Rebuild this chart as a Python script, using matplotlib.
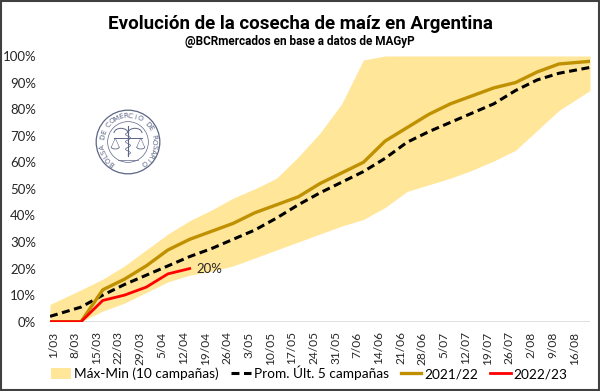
import numpy as np
import pandas as pd
import matplotlib
matplotlib.use('Agg')
import matplotlib.pyplot as plt
from matplotlib.patches import Circle, Rectangle, Arc

# data
dates = ['2023-02-28', '2023-03-10', '2023-03-17', '2023-03-24', '2023-03-31',
         '2023-04-07', '2023-04-14', '2023-04-21', '2023-04-28', '2023-05-05',
         '2023-05-12', '2023-05-19', '2023-05-26', '2023-06-02', '2023-06-09',
         '2023-06-16', '2023-06-23', '2023-06-30', '2023-07-07', '2023-07-14',
         '2023-07-21', '2023-07-28', '2023-08-04', '2023-08-11', '2023-08-21']
band_max = [6.5, 12, 16, 21, 27, 33, 38, 42, 46.5, 50, 54, 62, 71, 82, 98.5,
            100, 100, 100, 100, 100, 100, 100, 100, 100, 100]
band_min = [0, 0, 4, 7, 11, 15, 17.5, 19, 21, 24, 27, 30, 33, 36, 38.5,
            43, 49, 51.5, 54, 57, 60.5, 64.5, 72, 79.5, 87]
prom_5 = [2, 5.5, 10, 14, 17.5, 21, 24.5, 27.5, 31, 34.5, 39, 44, 48.5, 52.5, 56.5,
          61.5, 67.5, 71.5, 75, 78.5, 82, 87, 91, 93.5, 95.7]
camp_2122 = [0, 0, 12, 16, 21, 27, 31, 34, 37, 41, 44, 47, 52, 56, 60,
             68, 73, 78, 82, 85, 88, 90, 94, 97, 98]
camp_2223 = [0, 0, 8, 10, 13, 18, 20]

tick_labels = ['1/03', '8/03', '15/03', '22/03', '29/03', '5/04', '12/04', '19/04',
               '26/04', '3/05', '10/05', '17/05', '24/05', '31/05', '7/06', '14/06',
               '21/06', '28/06', '5/07', '12/07', '19/07', '26/07', '2/08', '9/08', '16/08']

x = pd.to_datetime(dates)
tick_pos = pd.to_datetime([lab + '/2023' for lab in tick_labels], format='%d/%m/%Y')

FONT = ['Lato', 'DejaVu Sans']
NARROW = ['Roboto', 'Liberation Sans', 'DejaVu Sans']
TXT = '#262626'

fig = plt.figure(figsize=(6, 3.91), dpi=100)
ax = fig.add_axes([50 / 600, 1 - 321.7 / 391, 540 / 600, (321.7 - 56) / 391])

ax.fill_between(x, np.array(band_min) / 100, np.array(band_max) / 100,
                color='#FFE699', lw=0, label='Máx-Min (10 campañas)')
ax.plot(x, np.array(prom_5) / 100, color='black', lw=2.2,
        linestyle=(0, (2.6, 1.5)), label='Prom. Últ. 5 campañas')
ax.plot(x, np.array(camp_2122) / 100, color='#BF9000', lw=2.4, label='2021/22')
ax.plot(x[:len(camp_2223)], np.array(camp_2223) / 100, color='#FF0000', lw=2.0,
        label='2022/23')
ax.annotate(f'{camp_2223[-1]}%', (x[len(camp_2223) - 1], camp_2223[-1] / 100),
            xytext=(5, 0), textcoords='offset points', ha='left', va='center',
            fontsize=9.5, color=TXT, family=FONT)

ax.axhline(0, color='#D9D9D9', lw=1.2, zorder=0)
ax.set_xlim(x[0], x[-1])
ax.set_ylim(0, 1)
ax.set_yticks(np.arange(0, 1.01, 0.1))
ax.set_yticklabels([f'{v}%' for v in range(0, 101, 10)], family=FONT, fontsize=9.5, color=TXT)
ax.set_xticks(tick_pos)
ax.set_xticklabels(tick_labels, rotation=90, family=FONT, fontsize=8.6, color=TXT)
ax.tick_params(axis='both', length=0)
ax.tick_params(axis='y', pad=10)
ax.tick_params(axis='x', pad=7)
for s in ax.spines.values():
    s.set_visible(False)

fig.text(0.5, 1 - 24 / 391, 'Evolución de la cosecha de maíz en Argentina',
         ha='center', va='center', fontsize=13.5, fontweight='bold', family=NARROW, color='black')
fig.text(0.5, 1 - 41 / 391, '@BCRmercados en base a datos de MAGyP',
         ha='center', va='center', fontsize=8.5, fontweight='bold', family=NARROW, color='black')

fig.legend(loc='center', bbox_to_anchor=(0.515, 1 - 373 / 391), ncol=4, frameon=False,
           prop={'family': FONT, 'size': 9.8}, handlelength=1.5, handletextpad=0.2,
           columnspacing=0.9, handleheight=0.9)

# seal of the Bolsa de Comercio de Rosario
sc = '#5b6585'
lx = fig.add_axes([93 / 600, 1 - 177 / 391, 70 / 600, 70 / 391])
lx.set_xlim(-1.1, 1.1)
lx.set_ylim(-1.1, 1.1)
lx.set_aspect('equal')
lx.axis('off')
lx.add_patch(Circle((0, 0), 1.0, fill=False, ec=sc, lw=0.9))
lx.add_patch(Circle((0, 0), 0.64, fill=False, ec=sc, lw=0.5))
seal_text = 'BOLSA DE COMERCIO DE ROSARIO'
angles = np.linspace(232, -52, len(seal_text))
for ch, a in zip(seal_text, angles):
    t = np.deg2rad(a)
    lx.text(0.82 * np.cos(t), 0.82 * np.sin(t), ch, rotation=a - 90, ha='center', va='center',
            fontsize=5.2, color=sc, family=['DejaVu Sans'], rotation_mode='anchor')
# emblem: staff, wings, scales
lx.plot([0, 0], [-0.45, 0.5], color=sc, lw=0.8)
lx.add_patch(Arc((-0.22, 0.28), 0.44, 0.3, theta1=0, theta2=180, color=sc, lw=0.7))
lx.add_patch(Arc((0.22, 0.28), 0.44, 0.3, theta1=0, theta2=180, color=sc, lw=0.7))
lx.plot([-0.45, 0.45], [0.12, 0.12], color=sc, lw=0.7)
for px in (-0.4, 0.4):
    lx.plot([px, px - 0.12], [0.12, -0.15], color=sc, lw=0.4)
    lx.plot([px, px + 0.12], [0.12, -0.15], color=sc, lw=0.4)
    lx.add_patch(Arc((px, -0.15), 0.26, 0.14, theta1=180, theta2=360, color=sc, lw=0.6))
lx.plot(0.08 * np.sin(np.linspace(0, 6 * np.pi, 40)), np.linspace(-0.4, 0.3, 40), color=sc, lw=0.5)
lx.plot([-0.3, 0.3], [-0.55, -0.55], color=sc, lw=0.5)

fig.patches.append(Rectangle((0.002, 0.003), 0.996, 0.994, transform=fig.transFigure,
                             fill=False, ec='#404040', lw=1.5))

fig.savefig('out.png', dpi=100)
